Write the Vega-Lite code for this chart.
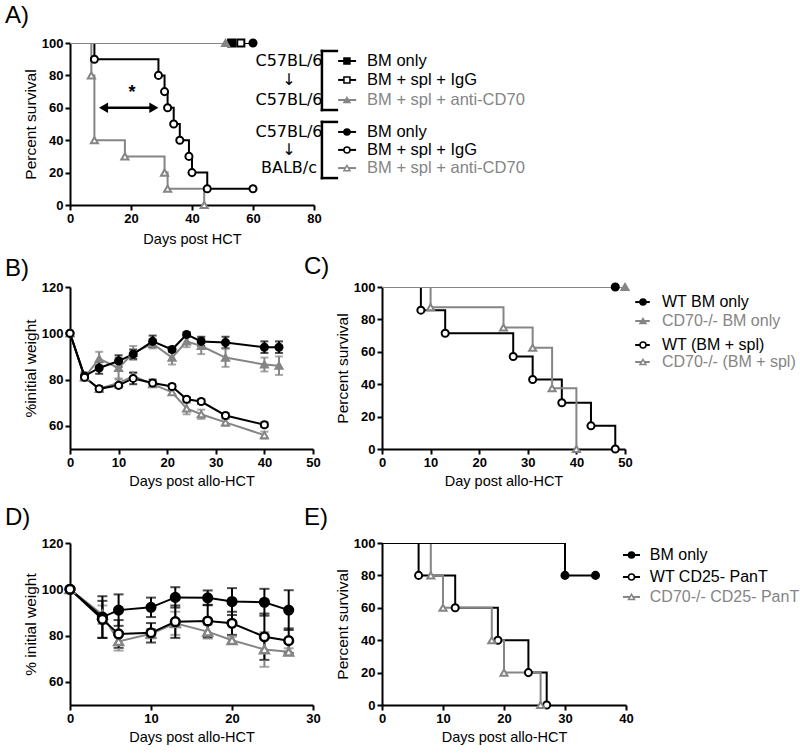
{
"$schema":"https://vega.github.io/schema/vega-lite/v6.json",
"padding":{"left":5,"top":4,"right":5,"bottom":5},
"columns":2,
"spacing":{"row":10,"column":68},
"bounds":"flush",
"align":"each",
"resolve":{"scale":{"color":"independent","stroke":"independent","fill":"independent","shape":"independent"}},
"datasets":{
"surv":[
{"p":"A","s":"A4","d":0,"v":100},{"p":"A","s":"A4","d":60,"v":100},
{"p":"A","s":"A1","d":0,"v":100},{"p":"A","s":"A1","d":53,"v":100},
{"p":"A","s":"A2","d":0,"v":100},{"p":"A","s":"A2","d":56,"v":100},
{"p":"A","s":"A5","d":0,"v":100},{"p":"A","s":"A5","d":8,"v":90},{"p":"A","s":"A5","d":29,"v":80},{"p":"A","s":"A5","d":31,"v":70},{"p":"A","s":"A5","d":32,"v":60},{"p":"A","s":"A5","d":34,"v":50},{"p":"A","s":"A5","d":36,"v":40},{"p":"A","s":"A5","d":39,"v":30},{"p":"A","s":"A5","d":40,"v":20},{"p":"A","s":"A5","d":45,"v":10},{"p":"A","s":"A5","d":60,"v":10},
{"p":"A","s":"A3","d":0,"v":100},{"p":"A","s":"A3","d":51,"v":100},
{"p":"A","s":"A6","d":0,"v":100},{"p":"A","s":"A6","d":7,"v":80},{"p":"A","s":"A6","d":8,"v":40},{"p":"A","s":"A6","d":18,"v":30},{"p":"A","s":"A6","d":31,"v":20},{"p":"A","s":"A6","d":32,"v":10},{"p":"A","s":"A6","d":44,"v":0},
{"p":"C","s":"C1","d":0,"v":100},{"p":"C","s":"C1","d":48,"v":100},
{"p":"C","s":"C3","d":0,"v":100},{"p":"C","s":"C3","d":8,"v":85.7},{"p":"C","s":"C3","d":13,"v":71.4},{"p":"C","s":"C3","d":27,"v":57.1},{"p":"C","s":"C3","d":31,"v":42.9},{"p":"C","s":"C3","d":37,"v":28.6},{"p":"C","s":"C3","d":43,"v":14.3},{"p":"C","s":"C3","d":48,"v":0},
{"p":"C","s":"C2","d":0,"v":100},{"p":"C","s":"C2","d":50,"v":100},
{"p":"C","s":"C4","d":0,"v":100},{"p":"C","s":"C4","d":10,"v":87.5},{"p":"C","s":"C4","d":25,"v":75},{"p":"C","s":"C4","d":31,"v":62.5},{"p":"C","s":"C4","d":35,"v":37.5},{"p":"C","s":"C4","d":40,"v":0},
{"p":"E","s":"E2","d":0,"v":100},{"p":"E","s":"E2","d":6,"v":80},{"p":"E","s":"E2","d":12,"v":60},{"p":"E","s":"E2","d":19,"v":40},{"p":"E","s":"E2","d":24,"v":20},{"p":"E","s":"E2","d":27,"v":0},
{"p":"E","s":"E3","d":0,"v":100},{"p":"E","s":"E3","d":8,"v":80},{"p":"E","s":"E3","d":10,"v":60},{"p":"E","s":"E3","d":18,"v":40},{"p":"E","s":"E3","d":20,"v":20},{"p":"E","s":"E3","d":26,"v":0},
{"p":"E","s":"E1","d":0,"v":100},{"p":"E","s":"E1","d":30,"v":80},{"p":"E","s":"E1","d":35,"v":80}
],
"wt":[
{"p":"B","s":"B2","d":0,"w":100,"e":0},{"p":"B","s":"B2","d":3,"w":81,"e":1.5},{"p":"B","s":"B2","d":6,"w":89,"e":3},{"p":"B","s":"B2","d":10,"w":85,"e":4.5},{"p":"B","s":"B2","d":13,"w":91.5,"e":3},{"p":"B","s":"B2","d":17,"w":95.5,"e":2},{"p":"B","s":"B2","d":21,"w":89.5,"e":3},{"p":"B","s":"B2","d":24,"w":96.5,"e":2.5},{"p":"B","s":"B2","d":27,"w":94.5,"e":3.5},{"p":"B","s":"B2","d":32,"w":89.5,"e":4},{"p":"B","s":"B2","d":40,"w":86.5,"e":3},{"p":"B","s":"B2","d":43,"w":86,"e":4},
{"p":"B","s":"B4","d":0,"w":100,"e":0},{"p":"B","s":"B4","d":3,"w":81,"e":1},{"p":"B","s":"B4","d":6,"w":76,"e":1},{"p":"B","s":"B4","d":10,"w":78.5,"e":1.5},{"p":"B","s":"B4","d":13,"w":81.5,"e":1.5},{"p":"B","s":"B4","d":17,"w":78,"e":1},{"p":"B","s":"B4","d":21,"w":74.5,"e":1},{"p":"B","s":"B4","d":24,"w":67.5,"e":2.5},{"p":"B","s":"B4","d":27,"w":65,"e":2},{"p":"B","s":"B4","d":32,"w":61.5,"e":1.5},{"p":"B","s":"B4","d":40,"w":56,"e":1.5},
{"p":"B","s":"B1","d":0,"w":100,"e":0},{"p":"B","s":"B1","d":3,"w":81.5,"e":1.5},{"p":"B","s":"B1","d":6,"w":85,"e":2.5},{"p":"B","s":"B1","d":10,"w":88,"e":2.5},{"p":"B","s":"B1","d":13,"w":91,"e":2},{"p":"B","s":"B1","d":17,"w":96.5,"e":2.5},{"p":"B","s":"B1","d":21,"w":93,"e":1},{"p":"B","s":"B1","d":24,"w":99.5,"e":1},{"p":"B","s":"B1","d":27,"w":96.5,"e":2},{"p":"B","s":"B1","d":32,"w":96,"e":2.5},{"p":"B","s":"B1","d":40,"w":94,"e":2.5},{"p":"B","s":"B1","d":43,"w":94,"e":2.5},
{"p":"B","s":"B3","d":0,"w":100,"e":0},{"p":"B","s":"B3","d":3,"w":81,"e":1},{"p":"B","s":"B3","d":6,"w":76,"e":1},{"p":"B","s":"B3","d":10,"w":77.5,"e":1},{"p":"B","s":"B3","d":13,"w":80.5,"e":2.5},{"p":"B","s":"B3","d":17,"w":78.5,"e":1.5},{"p":"B","s":"B3","d":21,"w":77,"e":1},{"p":"B","s":"B3","d":24,"w":71.5,"e":1},{"p":"B","s":"B3","d":27,"w":70.5,"e":1},{"p":"B","s":"B3","d":32,"w":64.5,"e":1},{"p":"B","s":"B3","d":40,"w":60.5,"e":1},
{"p":"D","s":"D3","d":0,"w":100,"e":0},{"p":"D","s":"D3","d":4,"w":89,"e":4},{"p":"D","s":"D3","d":6,"w":77.5,"e":4},{"p":"D","s":"D3","d":10,"w":80.8,"e":2},{"p":"D","s":"D3","d":13,"w":85.3,"e":5},{"p":"D","s":"D3","d":17,"w":81.7,"e":3},{"p":"D","s":"D3","d":20,"w":78,"e":1.5},{"p":"D","s":"D3","d":24,"w":74,"e":7.5},{"p":"D","s":"D3","d":27,"w":73,"e":1.5},
{"p":"D","s":"D1","d":0,"w":100,"e":0},{"p":"D","s":"D1","d":4,"w":88,"e":9},{"p":"D","s":"D1","d":6,"w":91,"e":6.8},{"p":"D","s":"D1","d":10,"w":92.2,"e":4.2},{"p":"D","s":"D1","d":13,"w":96.5,"e":4.4},{"p":"D","s":"D1","d":17,"w":96.3,"e":3.2},{"p":"D","s":"D1","d":20,"w":94.7,"e":5.8},{"p":"D","s":"D1","d":24,"w":94.4,"e":5.8},{"p":"D","s":"D1","d":27,"w":91,"e":8.6},
{"p":"D","s":"D2","d":0,"w":100,"e":0},{"p":"D","s":"D2","d":4,"w":87,"e":8},{"p":"D","s":"D2","d":6,"w":80.7,"e":6},{"p":"D","s":"D2","d":10,"w":81.2,"e":4.2},{"p":"D","s":"D2","d":13,"w":86,"e":7},{"p":"D","s":"D2","d":17,"w":86.3,"e":7},{"p":"D","s":"D2","d":20,"w":85.3,"e":5},{"p":"D","s":"D2","d":24,"w":79.5,"e":10},{"p":"D","s":"D2","d":27,"w":77.8,"e":5.3}
],
"leg":[
{"p":"A","s":"A1","label":"BM only","row":88.9,"grp":"g1","glab":"C57BL/6"},
{"p":"A","s":"A2","label":"BM + spl + IgG","row":77.2,"grp":"g1","glab":"↓"},
{"p":"A","s":"A3","label":"BM + spl + anti-CD70","row":64.8,"grp":"g1","glab":"C57BL/6"},
{"p":"A","s":"A4","label":"BM only","row":45.1,"grp":"g2","glab":"C57BL/6"},
{"p":"A","s":"A5","label":"BM + spl + IgG","row":34.0,"grp":"g2","glab":"↓"},
{"p":"A","s":"A6","label":"BM + spl + anti-CD70","row":22.8,"grp":"g2","glab":"BALB/c"},
{"p":"C","s":"C1","label":"WT BM only","row":90.7},
{"p":"C","s":"C2","label":"CD70-/- BM only","row":79.0},
{"p":"C","s":"C3","label":"WT (BM + spl)","row":64.2},
{"p":"C","s":"C4","label":"CD70-/- (BM + spl)","row":53.7},
{"p":"E","s":"E1","label":"BM only","row":92.6},
{"p":"E","s":"E2","label":"WT CD25- PanT","row":79.0},
{"p":"E","s":"E3","label":"CD70-/- CD25- PanT","row":66.7}
],
"ann":[
{"kind":"arrow","d":11,"v":60},{"kind":"arrow","d":27.5,"v":60},{"kind":"star","d":20.3,"v":69,"label":"*"}
]
},
"concat":[
{
"width":244,"height":162,
"title":{"text":"A)","dx":-65,"offset":7},
"layer":[
{"data":{"name":"surv"},"transform":[{"filter":"datum.p==='A'"}],
"mark":{"type":"line","interpolate":"step-after","strokeWidth":2,"clip":true},
"encoding":{
"x":{"field":"d","type":"quantitative","title":"Days post HCT","scale":{"domain":[0,80],"nice":false},"axis":{"values":[0,20,40,60,80],"titlePadding":7,"labelOverlap":false}},
"y":{"field":"v","type":"quantitative","title":"Percent survival","scale":{"domain":[0,100],"nice":false},"axis":{"tickCount":5,"labelOverlap":false}},
"color":{"field":"s","type":"nominal","legend":null,"scale":{"domain":["A1","A2","A3","A4","A5","A6"],"range":["#000000","#000000","#858585","#000000","#000000","#858585"]}}}},
{"data":{"name":"surv"},"transform":[{"filter":"datum.p==='A' && datum.d>0"}],
"mark":{"type":"point","opacity":1,"strokeWidth":2,"size":50},
"encoding":{
"x":{"field":"d","type":"quantitative","title":"Days post HCT"},
"y":{"field":"v","type":"quantitative","title":"Percent survival"},
"shape":{"field":"s","type":"nominal","legend":null,"scale":{"domain":["A1","A2","A3","A4","A5","A6"],"range":["square","square","triangle-up","circle","circle","triangle-up"]}},
"fill":{"field":"s","type":"nominal","legend":null,"scale":{"domain":["A1","A2","A3","A4","A5","A6"],"range":["#000000","#ffffff","#858585","#000000","#ffffff","#ffffff"]}},
"stroke":{"field":"s","type":"nominal","legend":null,"scale":{"domain":["A1","A2","A3","A4","A5","A6"],"range":["#000000","#000000","#858585","#000000","#000000","#858585"]}}}},
{"data":{"name":"ann"},"transform":[{"filter":"datum.kind==='arrow'"}],
"mark":{"type":"line","color":"#000000","strokeWidth":2.5},
"encoding":{"x":{"field":"d","type":"quantitative","title":"Days post HCT"},"y":{"field":"v","type":"quantitative","title":"Percent survival"}}},
{"data":{"name":"ann"},"transform":[{"filter":"datum.kind==='arrow' && datum.d<20"}],
"mark":{"type":"point","shape":"triangle-left","filled":true,"color":"#000000","opacity":1,"size":110},
"encoding":{"x":{"field":"d","type":"quantitative","title":"Days post HCT"},"y":{"field":"v","type":"quantitative","title":"Percent survival"}}},
{"data":{"name":"ann"},"transform":[{"filter":"datum.kind==='arrow' && datum.d>20"}],
"mark":{"type":"point","shape":"triangle-right","filled":true,"color":"#000000","opacity":1,"size":110},
"encoding":{"x":{"field":"d","type":"quantitative","title":"Days post HCT"},"y":{"field":"v","type":"quantitative","title":"Percent survival"}}},
{"data":{"name":"ann"},"transform":[{"filter":"datum.kind==='star'"}],
"mark":{"type":"text","fontSize":18,"fontWeight":"bold","color":"#000000","baseline":"middle","align":"center"},
"encoding":{"x":{"field":"d","type":"quantitative","title":"Days post HCT"},"y":{"field":"v","type":"quantitative","title":"Percent survival"},"text":{"field":"label"}}},
{"data":{"name":"leg"},"transform":[{"filter":"datum.p==='A'"}],
"mark":{"type":"rule","strokeWidth":2},
"encoding":{"x":{"datum":87.9,"type":"quantitative"},"x2":{"datum":93.8},
"y":{"field":"row","type":"quantitative","title":"Percent survival"},
"color":{"field":"s","type":"nominal","legend":null,"scale":{"domain":["A1","A2","A3","A4","A5","A6"],"range":["#000000","#000000","#858585","#000000","#000000","#858585"]}}}},
{"data":{"name":"leg"},"transform":[{"filter":"datum.p==='A'"}],
"mark":{"type":"point","opacity":1,"strokeWidth":1.5,"size":36},
"encoding":{"x":{"datum":90.8,"type":"quantitative"},"y":{"field":"row","type":"quantitative","title":"Percent survival"},
"shape":{"field":"s","type":"nominal","legend":null,"scale":{"domain":["A1","A2","A3","A4","A5","A6"],"range":["square","square","triangle-up","circle","circle","triangle-up"]}},
"fill":{"field":"s","type":"nominal","legend":null,"scale":{"domain":["A1","A2","A3","A4","A5","A6"],"range":["#000000","#ffffff","#858585","#000000","#ffffff","#ffffff"]}},
"stroke":{"field":"s","type":"nominal","legend":null,"scale":{"domain":["A1","A2","A3","A4","A5","A6"],"range":["#000000","#000000","#858585","#000000","#000000","#858585"]}}}},
{"data":{"name":"leg"},"transform":[{"filter":"datum.p==='A'"}],
"mark":{"type":"text","align":"left","baseline":"middle","fontSize":16.5},
"encoding":{"x":{"datum":97.4,"type":"quantitative"},"y":{"field":"row","type":"quantitative","title":"Percent survival"},"text":{"field":"label"},
"color":{"field":"s","type":"nominal","legend":null,"scale":{"domain":["A1","A2","A3","A4","A5","A6"],"range":["#000000","#000000","#858585","#000000","#000000","#858585"]}}}},
{"data":{"name":"leg"},"transform":[{"filter":"datum.p==='A'"}],
"mark":{"type":"text","align":"center","baseline":"middle","fontSize":16,"font":"DejaVu Sans","color":"#000000"},
"encoding":{"x":{"datum":71.8,"type":"quantitative"},"y":{"field":"row","type":"quantitative","title":"Percent survival"},"text":{"field":"glab"}}},
{"data":{"name":"leg"},"transform":[{"filter":"datum.p==='A'"}],
"mark":{"type":"rule","strokeWidth":2.5,"color":"#000000","strokeCap":"square","yOffset":10,"y2Offset":-10},
"encoding":{"x":{"datum":82.6,"type":"quantitative"},"y":{"aggregate":"min","field":"row","type":"quantitative","title":"Percent survival"},"y2":{"aggregate":"max","field":"row"},"detail":{"field":"grp","type":"nominal"}}},
{"data":{"name":"leg"},"transform":[{"filter":"datum.p==='A'"}],
"mark":{"type":"rule","strokeWidth":2.5,"color":"#000000","strokeCap":"square","yOffset":-10},
"encoding":{"x":{"datum":82.6,"type":"quantitative"},"x2":{"datum":87.5},"y":{"aggregate":"max","field":"row","type":"quantitative","title":"Percent survival"},"detail":{"field":"grp","type":"nominal"}}},
{"data":{"name":"leg"},"transform":[{"filter":"datum.p==='A'"}],
"mark":{"type":"rule","strokeWidth":2.5,"color":"#000000","strokeCap":"square","yOffset":10},
"encoding":{"x":{"datum":82.6,"type":"quantitative"},"x2":{"datum":87.5},"y":{"aggregate":"min","field":"row","type":"quantitative","title":"Percent survival"},"detail":{"field":"grp","type":"nominal"}}}
]
},
{"width":10,"height":162,"data":{"values":[]},"mark":"point"},
{"width":10,"height":62,"data":{"values":[]},"mark":"point"},
{"width":10,"height":62,"data":{"values":[]},"mark":"point"},
{
"width":243,"height":162,
"title":{"text":"B)","dx":-65,"offset":0},
"data":{"name":"wt"},"transform":[{"filter":"datum.p==='B'"}],
"layer":[
{"mark":{"type":"errorbar","ticks":true,"thickness":2,"size":8},
"encoding":{
"x":{"field":"d","type":"quantitative","title":"Days post allo-HCT","scale":{"domain":[0,50],"nice":false},"axis":{"values":[0,10,20,30,40,50],"labelOverlap":false}},
"y":{"field":"w","type":"quantitative","title":"%initial weight","scale":{"domain":[50,120],"nice":false,"zero":false},"axis":{"values":[60,80,100,120],"labelOverlap":false}},
"yError":{"field":"e"},
"color":{"field":"s","type":"nominal","legend":null,"scale":{"domain":["B1","B2","B3","B4"],"range":["#000000","#858585","#000000","#858585"]}}}},
{"mark":{"type":"line","strokeWidth":2},
"encoding":{"x":{"field":"d","type":"quantitative","title":"Days post allo-HCT"},"y":{"field":"w","type":"quantitative","title":"%initial weight"},
"color":{"field":"s","type":"nominal","legend":null,"scale":{"domain":["B1","B2","B3","B4"],"range":["#000000","#858585","#000000","#858585"]}}}},
{"mark":{"type":"point","opacity":1,"strokeWidth":2,"size":50},
"encoding":{"x":{"field":"d","type":"quantitative","title":"Days post allo-HCT"},"y":{"field":"w","type":"quantitative","title":"%initial weight"},
"shape":{"field":"s","type":"nominal","legend":null,"scale":{"domain":["B1","B2","B3","B4"],"range":["circle","triangle-up","circle","triangle-up"]}},
"fill":{"field":"s","type":"nominal","legend":null,"scale":{"domain":["B1","B2","B3","B4"],"range":["#000000","#858585","#ffffff","#ffffff"]}},
"stroke":{"field":"s","type":"nominal","legend":null,"scale":{"domain":["B1","B2","B3","B4"],"range":["#000000","#858585","#000000","#858585"]}}}}
]
},
{
"width":243,"height":162,
"title":{"text":"C)","dx":-78,"offset":0},
"layer":[
{"data":{"name":"surv"},"transform":[{"filter":"datum.p==='C'"}],
"mark":{"type":"line","interpolate":"step-after","strokeWidth":2,"clip":true},
"encoding":{
"x":{"field":"d","type":"quantitative","title":"Day post allo-HCT","scale":{"domain":[0,50],"nice":false},"axis":{"values":[0,10,20,30,40,50],"labelOverlap":false}},
"y":{"field":"v","type":"quantitative","title":"Percent survival","scale":{"domain":[0,100],"nice":false},"axis":{"tickCount":5,"labelOverlap":false}},
"color":{"field":"s","type":"nominal","legend":null,"scale":{"domain":["C1","C2","C3","C4"],"range":["#000000","#858585","#000000","#858585"]}}}},
{"data":{"name":"surv"},"transform":[{"filter":"datum.p==='C' && datum.d>0"}],
"mark":{"type":"point","opacity":1,"strokeWidth":2,"size":50},
"encoding":{
"x":{"field":"d","type":"quantitative","title":"Day post allo-HCT"},
"y":{"field":"v","type":"quantitative","title":"Percent survival"},
"shape":{"field":"s","type":"nominal","legend":null,"scale":{"domain":["C1","C2","C3","C4"],"range":["circle","triangle-up","circle","triangle-up"]}},
"fill":{"field":"s","type":"nominal","legend":null,"scale":{"domain":["C1","C2","C3","C4"],"range":["#000000","#858585","#ffffff","#ffffff"]}},
"stroke":{"field":"s","type":"nominal","legend":null,"scale":{"domain":["C1","C2","C3","C4"],"range":["#000000","#858585","#000000","#858585"]}}}},
{"data":{"name":"leg"},"transform":[{"filter":"datum.p==='C'"}],
"mark":{"type":"rule","strokeWidth":2},
"encoding":{"x":{"datum":52.1,"type":"quantitative"},"x2":{"datum":55.1},
"y":{"field":"row","type":"quantitative","title":"Percent survival"},
"color":{"field":"s","type":"nominal","legend":null,"scale":{"domain":["C1","C2","C3","C4"],"range":["#000000","#858585","#000000","#858585"]}}}},
{"data":{"name":"leg"},"transform":[{"filter":"datum.p==='C'"}],
"mark":{"type":"point","opacity":1,"strokeWidth":1.5,"size":36},
"encoding":{"x":{"datum":53.7,"type":"quantitative"},"y":{"field":"row","type":"quantitative","title":"Percent survival"},
"shape":{"field":"s","type":"nominal","legend":null,"scale":{"domain":["C1","C2","C3","C4"],"range":["circle","triangle-up","circle","triangle-up"]}},
"fill":{"field":"s","type":"nominal","legend":null,"scale":{"domain":["C1","C2","C3","C4"],"range":["#000000","#858585","#ffffff","#ffffff"]}},
"stroke":{"field":"s","type":"nominal","legend":null,"scale":{"domain":["C1","C2","C3","C4"],"range":["#000000","#858585","#000000","#858585"]}}}},
{"data":{"name":"leg"},"transform":[{"filter":"datum.p==='C'"}],
"mark":{"type":"text","align":"left","baseline":"middle","fontSize":16},
"encoding":{"x":{"datum":57.6,"type":"quantitative"},"y":{"field":"row","type":"quantitative","title":"Percent survival"},"text":{"field":"label"},
"color":{"field":"s","type":"nominal","legend":null,"scale":{"domain":["C1","C2","C3","C4"],"range":["#000000","#858585","#000000","#858585"]}}}}
]
},
{"width":10,"height":74,"data":{"values":[]},"mark":"point"},
{"width":10,"height":74,"data":{"values":[]},"mark":"point"},
{
"width":243,"height":162,
"title":{"text":"D)","dx":-65,"offset":7},
"data":{"name":"wt"},"transform":[{"filter":"datum.p==='D'"}],
"layer":[
{"mark":{"type":"errorbar","ticks":true,"thickness":2,"size":10},
"encoding":{
"x":{"field":"d","type":"quantitative","title":"Days post allo-HCT","scale":{"domain":[0,30],"nice":false},"axis":{"values":[0,10,20,30],"labelOverlap":false}},
"y":{"field":"w","type":"quantitative","title":"% initial weight","scale":{"domain":[50,120],"nice":false,"zero":false},"axis":{"values":[60,80,100,120],"labelOverlap":false}},
"yError":{"field":"e"},
"color":{"field":"s","type":"nominal","legend":null,"scale":{"domain":["D1","D2","D3"],"range":["#000000","#000000","#858585"]}}}},
{"mark":{"type":"line","strokeWidth":2},
"encoding":{"x":{"field":"d","type":"quantitative","title":"Days post allo-HCT"},"y":{"field":"w","type":"quantitative","title":"% initial weight"},
"color":{"field":"s","type":"nominal","legend":null,"scale":{"domain":["D1","D2","D3"],"range":["#000000","#000000","#858585"]}}}},
{"mark":{"type":"point","opacity":1,"strokeWidth":2.5,"size":75},
"encoding":{"x":{"field":"d","type":"quantitative","title":"Days post allo-HCT"},"y":{"field":"w","type":"quantitative","title":"% initial weight"},
"shape":{"field":"s","type":"nominal","legend":null,"scale":{"domain":["D1","D2","D3"],"range":["circle","circle","triangle-up"]}},
"fill":{"field":"s","type":"nominal","legend":null,"scale":{"domain":["D1","D2","D3"],"range":["#000000","#ffffff","#ffffff"]}},
"stroke":{"field":"s","type":"nominal","legend":null,"scale":{"domain":["D1","D2","D3"],"range":["#000000","#000000","#858585"]}}}}
]
},
{
"width":244,"height":162,
"title":{"text":"E)","dx":-78,"offset":7},
"layer":[
{"data":{"name":"surv"},"transform":[{"filter":"datum.p==='E'"}],
"mark":{"type":"line","interpolate":"step-after","strokeWidth":2,"clip":true},
"encoding":{
"x":{"field":"d","type":"quantitative","title":"Days post allo-HCT","scale":{"domain":[0,40],"nice":false},"axis":{"values":[0,10,20,30,40],"labelOverlap":false}},
"y":{"field":"v","type":"quantitative","title":"Percent survival","scale":{"domain":[0,100],"nice":false},"axis":{"tickCount":5,"labelOverlap":false}},
"color":{"field":"s","type":"nominal","legend":null,"scale":{"domain":["E1","E2","E3"],"range":["#000000","#000000","#858585"]}}}},
{"data":{"name":"surv"},"transform":[{"filter":"datum.p==='E' && datum.d>0"}],
"mark":{"type":"point","opacity":1,"strokeWidth":2,"size":50},
"encoding":{
"x":{"field":"d","type":"quantitative","title":"Days post allo-HCT"},
"y":{"field":"v","type":"quantitative","title":"Percent survival"},
"shape":{"field":"s","type":"nominal","legend":null,"scale":{"domain":["E1","E2","E3"],"range":["circle","circle","triangle-up"]}},
"fill":{"field":"s","type":"nominal","legend":null,"scale":{"domain":["E1","E2","E3"],"range":["#000000","#ffffff","#ffffff"]}},
"stroke":{"field":"s","type":"nominal","legend":null,"scale":{"domain":["E1","E2","E3"],"range":["#000000","#000000","#858585"]}}}},
{"data":{"name":"leg"},"transform":[{"filter":"datum.p==='E'"}],
"mark":{"type":"rule","strokeWidth":2},
"encoding":{"x":{"datum":39.5,"type":"quantitative"},"x2":{"datum":42.3},
"y":{"field":"row","type":"quantitative","title":"Percent survival"},
"color":{"field":"s","type":"nominal","legend":null,"scale":{"domain":["E1","E2","E3"],"range":["#000000","#000000","#858585"]}}}},
{"data":{"name":"leg"},"transform":[{"filter":"datum.p==='E'"}],
"mark":{"type":"point","opacity":1,"strokeWidth":1.5,"size":36},
"encoding":{"x":{"datum":40.9,"type":"quantitative"},"y":{"field":"row","type":"quantitative","title":"Percent survival"},
"shape":{"field":"s","type":"nominal","legend":null,"scale":{"domain":["E1","E2","E3"],"range":["circle","circle","triangle-up"]}},
"fill":{"field":"s","type":"nominal","legend":null,"scale":{"domain":["E1","E2","E3"],"range":["#000000","#ffffff","#ffffff"]}},
"stroke":{"field":"s","type":"nominal","legend":null,"scale":{"domain":["E1","E2","E3"],"range":["#000000","#000000","#858585"]}}}},
{"data":{"name":"leg"},"transform":[{"filter":"datum.p==='E'"}],
"mark":{"type":"text","align":"left","baseline":"middle","fontSize":16},
"encoding":{"x":{"datum":43.9,"type":"quantitative"},"y":{"field":"row","type":"quantitative","title":"Percent survival"},"text":{"field":"label"},
"color":{"field":"s","type":"nominal","legend":null,"scale":{"domain":["E1","E2","E3"],"range":["#000000","#000000","#858585"]}}}}
]
}
],
"config":{
"font":"Liberation Sans",
"view":{"stroke":null},
"axis":{"domainColor":"#000000","domainWidth":2,"tickColor":"#000000","tickWidth":2,"tickSize":5,"labelFont":"Liberation Sans","labelFontWeight":"bold","labelFontSize":13,"labelColor":"#000000","titleFont":"Liberation Sans","titleFontWeight":"normal","titleColor":"#000000","grid":false,"labelFlush":false,"labelOverlap":false},
"axisX":{"labelPadding":2,"titlePadding":5,"titleFontSize":14.5},
"axisY":{"labelPadding":2,"titlePadding":3,"titleFontSize":15.5},
"title":{"font":"Liberation Sans","fontWeight":"normal","fontSize":24,"color":"#000000","anchor":"start","frame":"group","baseline":"alphabetic"},
"text":{"font":"Liberation Sans"}
}
}
